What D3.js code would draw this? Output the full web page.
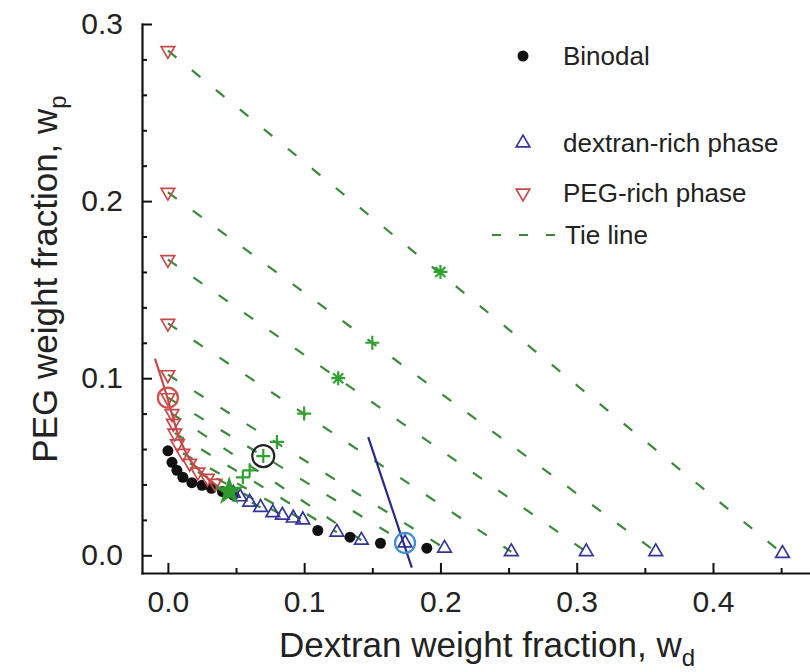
<!DOCTYPE html>
<html><head><meta charset="utf-8">
<script src="https://cdn.jsdelivr.net/npm/d3@7"></script>
<style>
html,body{margin:0;padding:0;background:#fff;}
svg{display:block;font-family:"Liberation Sans",Arial,sans-serif;}
</style></head><body>
<svg id="chart" width="810" height="672"></svg>
<script>
// Binodal (cloud-point) compositions
const binodalWd = [0.000, 0.003, 0.0066, 0.011, 0.0176, 0.025, 0.032, 0.040, 0.048, 0.110, 0.1336, 0.156, 0.190];
const binodalWp = [0.059, 0.0525, 0.048, 0.044, 0.041, 0.0395, 0.0378, 0.036, 0.034, 0.014, 0.0102, 0.0068, 0.004];

// Dextran-rich (bottom) phase compositions
const dexRichWd = [0.048, 0.053, 0.060, 0.068, 0.077, 0.084, 0.092, 0.099, 0.124, 0.142, 0.174, 0.203, 0.252, 0.307, 0.358, 0.451];
const dexRichWp = [0.035, 0.033, 0.030, 0.027, 0.024, 0.0226, 0.021, 0.020, 0.013, 0.0085, 0.007, 0.004, 0.002, 0.002, 0.002, 0.001];

// PEG-rich (top) phase compositions
const pegRichWd = [0.000, 0.000, 0.000, 0.000, 0.000, 0.000, 0.003, 0.004, 0.005, 0.007, 0.011, 0.016, 0.022, 0.029, 0.0345];
const pegRichWp = [0.285, 0.205, 0.167, 0.131, 0.102, 0.089, 0.080, 0.0745, 0.069, 0.063, 0.0576, 0.052, 0.047, 0.0435, 0.0407];

// Tie lines: PEG-rich end -> dextran-rich end
const tiePegWd = [0, 0, 0, 0, 0, 0, 0.003, 0.005, 0.011, 0.016, 0.022];
const tiePegWp = [0.285, 0.205, 0.167, 0.131, 0.102, 0.089, 0.080, 0.069, 0.0576, 0.052, 0.047];
const tieDexWd = [0.451, 0.358, 0.307, 0.252, 0.203, 0.174, 0.142, 0.124, 0.099, 0.084, 0.068];
const tieDexWp = [0.001, 0.002, 0.002, 0.002, 0.004, 0.007, 0.0085, 0.013, 0.020, 0.0226, 0.027];

// Overall (feed) compositions
const feedPlusWd = [0.15, 0.10, 0.08, 0.07, 0.06, 0.055];
const feedPlusWp = [0.12, 0.08, 0.064, 0.056, 0.048, 0.044];
const feedAstWd = [0.20, 0.125];
const feedAstWp = [0.16, 0.10];
const criticalWd = [0.045];
const criticalWp = [0.036];

// Fitted PEG-rich branch and dextran-rich guide line
const pegFitWd = [-0.0095, -0.004, 0.000, 0.004, 0.008, 0.012, 0.017, 0.023, 0.030, 0.038];
const pegFitWp = [0.111, 0.098, 0.088, 0.077, 0.067, 0.060, 0.053, 0.048, 0.043, 0.038];
const dexLineWd = [0.147, 0.179];
const dexLineWp = [0.0667, -0.007];

// Highlighted compositions (circled)
const circleWd = [0.000, 0.070, 0.174];
const circleWp = [0.089, 0.056, 0.007];
const circleColor = ["#d0504a", "#222222", "#3d8fd6"];

const xMajor = [0, 0.1, 0.2, 0.3, 0.4];
const xMinor = [0.05, 0.15, 0.25, 0.35, 0.45];
const yMajor = [0, 0.1, 0.2, 0.3];
const yMinor = [0.02, 0.04, 0.06, 0.08, 0.12, 0.14, 0.16, 0.18, 0.22, 0.24, 0.26, 0.28];

const legendLabels = ["Binodal", "dextran-rich phase", "PEG-rich phase", "Tie line"];

const svg = d3.select("#chart");
const x = d3.scaleLinear().domain([-0.019, 0.48]).range([142, 822]);
const y = d3.scaleLinear().domain([-0.01, 0.30]).range([573, 24]);

const GREEN_LINE = "#3a8a3a", GREEN_MARK = "#2fa22f";
const BLUE = "#34349a", RED = "#c8484a";

// axes
const gx = svg.append("g").attr("transform", `translate(0,${y.range()[0]})`);
gx.call(d3.axisBottom(x).tickValues(xMinor).tickSize(-5).tickSizeOuter(0).tickFormat(""));
gx.call(g => g.selectAll(".domain").remove());
const gx2 = svg.append("g").attr("transform", `translate(0,${y.range()[0]})`)
  .call(d3.axisBottom(x).tickValues(xMajor).tickSize(-10).tickSizeOuter(0).tickPadding(18).tickFormat(d3.format(".1f")));
const gy = svg.append("g").attr("transform", `translate(${x.range()[0]},0)`);
gy.call(d3.axisLeft(y).tickValues(yMinor).tickSize(-5).tickSizeOuter(0).tickFormat(""));
gy.call(g => g.selectAll(".domain").remove());
const gy2 = svg.append("g").attr("transform", `translate(${x.range()[0]},0)`)
  .call(d3.axisLeft(y).tickValues(yMajor).tickSize(-10).tickSizeOuter(0).tickPadding(19).tickFormat(d3.format(".1f")));
svg.selectAll(".domain").attr("stroke", "#111").attr("stroke-width", 2.2).attr("stroke-linecap", "square");
svg.selectAll(".tick line").attr("stroke", "#111").attr("stroke-width", 2);
svg.selectAll(".tick text").attr("font-size", 30).attr("fill", "#222").attr("font-family", "Liberation Sans, Arial, sans-serif");

// axis titles
const xt = svg.append("text").attr("x", 487).attr("y", 657).attr("text-anchor", "middle")
  .attr("font-size", 35).attr("fill", "#222");
xt.append("tspan").text("Dextran weight fraction, w");
xt.append("tspan").attr("font-size", 24).attr("dy", 9).text("d");
const yt = svg.append("text").attr("transform", "translate(57,279) rotate(-90)").attr("text-anchor", "middle")
  .attr("font-size", 35).attr("fill", "#222");
yt.append("tspan").text("PEG weight fraction, w");
yt.append("tspan").attr("font-size", 24).attr("dy", 9).text("p");

const plot = svg.append("g");

// tie lines
plot.selectAll("line.tie").data(d3.range(tiePegWd.length)).join("line")
  .attr("class", "tie")
  .attr("x1", i => x(tiePegWd[i])).attr("y1", i => y(tiePegWp[i]))
  .attr("x2", i => x(tieDexWd[i])).attr("y2", i => y(tieDexWp[i]))
  .attr("stroke", GREEN_LINE).attr("stroke-width", 2.2).attr("stroke-dasharray", "11,20");

// binodal points
plot.selectAll("circle.bin").data(d3.range(binodalWd.length)).join("circle")
  .attr("class", "bin").attr("cx", i => x(binodalWd[i])).attr("cy", i => y(binodalWp[i]))
  .attr("r", 5.5).attr("fill", "#111");

const tri = d3.symbol(d3.symbolTriangle, 80)();
// dextran-rich phase
plot.selectAll("path.dex").data(d3.range(dexRichWd.length)).join("path")
  .attr("class", "dex").attr("d", tri)
  .attr("transform", i => `translate(${x(dexRichWd[i])},${y(dexRichWp[i])})`)
  .attr("fill", "none").attr("stroke", BLUE).attr("stroke-width", 1.7);
// PEG-rich phase
plot.selectAll("path.peg").data(d3.range(pegRichWd.length)).join("path")
  .attr("class", "peg").attr("d", tri)
  .attr("transform", i => `translate(${x(pegRichWd[i])},${y(pegRichWp[i])}) rotate(180)`)
  .attr("fill", "none").attr("stroke", RED).attr("stroke-width", 1.7);

// fitted branches
plot.append("path")
  .datum(d3.range(pegFitWd.length))
  .attr("d", d3.line().x(i => x(pegFitWd[i])).y(i => y(pegFitWp[i])).curve(d3.curveCatmullRom))
  .attr("fill", "none").attr("stroke", RED).attr("stroke-width", 2.2);
plot.append("path")
  .datum(d3.range(dexLineWd.length))
  .attr("d", d3.line().x(i => x(dexLineWd[i])).y(i => y(dexLineWp[i])))
  .attr("fill", "none").attr("stroke", "#2a2a8c").attr("stroke-width", 2.2);

// feed compositions
plot.selectAll("path.plus").data(d3.range(feedPlusWd.length)).join("path")
  .attr("class", "plus").attr("d", "M-7,0H7M0,-7V7")
  .attr("transform", i => `translate(${x(feedPlusWd[i])},${y(feedPlusWp[i])})`)
  .attr("stroke", GREEN_MARK).attr("stroke-width", 2.2);
plot.selectAll("path.ast").data(d3.range(feedAstWd.length)).join("path")
  .attr("class", "ast").attr("d", "M-7,0H7M0,-7V7M-5,-5L5,5M-5,5L5,-5")
  .attr("transform", i => `translate(${x(feedAstWd[i])},${y(feedAstWp[i])})`)
  .attr("stroke", GREEN_MARK).attr("stroke-width", 2.2);
plot.selectAll("path.crit").data(d3.range(criticalWd.length)).join("path")
  .attr("class", "crit").attr("d", d3.symbol(d3.symbolStar, 190)())
  .attr("transform", i => `translate(${x(criticalWd[i])},${y(criticalWp[i])})`)
  .attr("fill", "#2e9a2e").attr("stroke", "#2e9a2e").attr("stroke-width", 1.5);

// circled compositions
plot.selectAll("circle.mark").data(d3.range(circleWd.length)).join("circle")
  .attr("class", "mark").attr("cx", i => x(circleWd[i])).attr("cy", i => y(circleWp[i]))
  .attr("r", i => i === 1 ? 11 : 10).attr("fill", "none")
  .attr("stroke", i => circleColor[i]).attr("stroke-width", 2.2);

// legend
const lg = svg.append("g").attr("font-size", 26).attr("fill", "#222");
const lgY = [56, 143, 193, 235];
lg.append("circle").attr("cx", 523).attr("cy", lgY[0]).attr("r", 5.5).attr("fill", "#111");
lg.append("path").attr("d", tri).attr("transform", `translate(523,${lgY[1]})`)
  .attr("fill", "none").attr("stroke", BLUE).attr("stroke-width", 1.7);
lg.append("path").attr("d", tri).attr("transform", `translate(523,${lgY[2]}) rotate(180)`)
  .attr("fill", "none").attr("stroke", RED).attr("stroke-width", 1.7);
lg.append("line").attr("x1", 492).attr("x2", 556).attr("y1", lgY[3]).attr("y2", lgY[3])
  .attr("stroke", GREEN_LINE).attr("stroke-width", 2.2).attr("stroke-dasharray", "9,18");
lg.selectAll("text").data(legendLabels).join("text")
  .attr("x", (d, i) => i === 3 ? 565 : 563).attr("y", (d, i) => lgY[i]).attr("dy", "0.35em")
  .text(d => d);
</script>
</body></html>
